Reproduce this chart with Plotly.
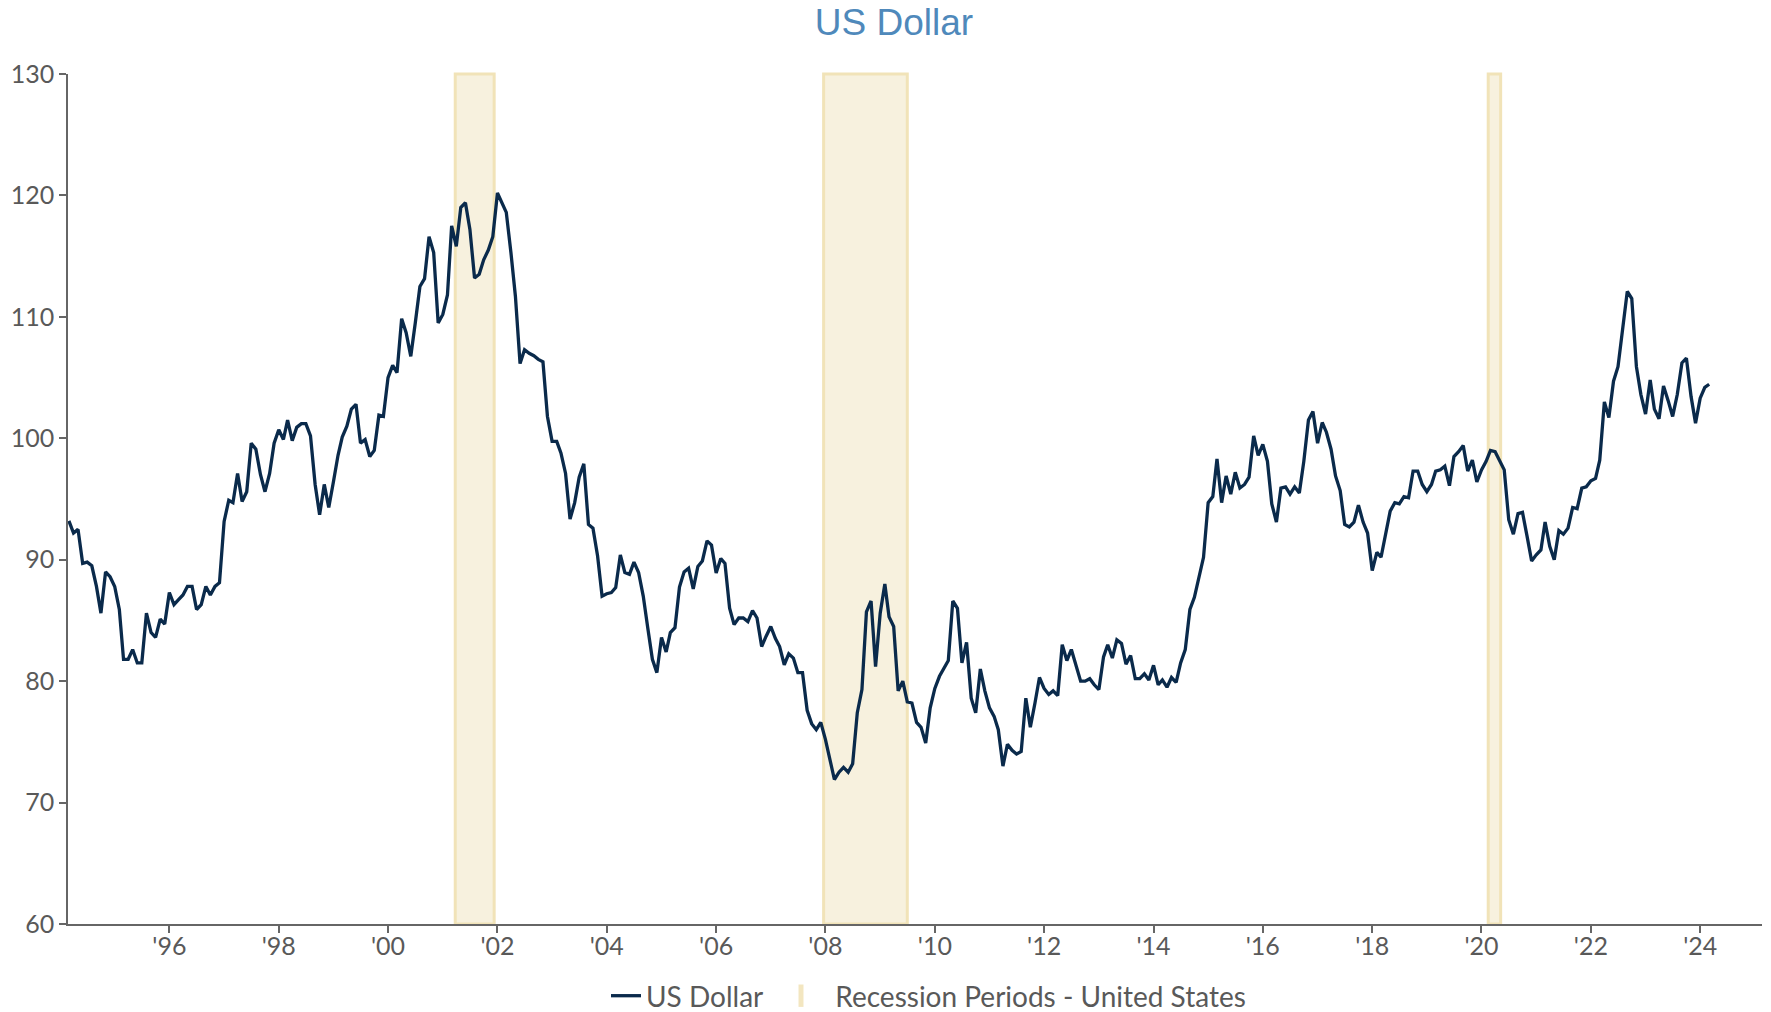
import pandas as pd
import plotly.graph_objects as go

# Monthly US Dollar index values, Mar 1994 - Mar 2024
start_month = "1994-03-01"
usd_1994 = [93.2, 92.2, 92.5, 89.7, 89.8, 89.5, 87.8, 85.6, 89.0, 88.6]
usd_1995 = [87.8, 85.9, 81.8, 81.8, 82.6, 81.5, 81.5, 85.6, 84.0, 83.6, 85.1, 84.7]
usd_1996 = [87.3, 86.3, 86.7, 87.1, 87.8, 87.8, 85.9, 86.3, 87.8, 87.1, 87.8, 88.1]
usd_1997 = [93.15, 94.9, 94.7, 97.1, 94.8, 95.6, 99.6, 99.1, 97.0, 95.6, 97.1, 99.6]
usd_1998 = [100.7, 99.9, 101.5, 99.8, 100.9, 101.2, 101.2, 100.2, 96.2, 93.7, 96.2, 94.3]
usd_1999 = [96.4, 98.6, 100.1, 101.0, 102.4, 102.8, 99.6, 99.9, 98.5, 99.0, 101.9, 101.8]
usd_2000 = [105.0, 106.0, 105.4, 109.85, 108.7, 106.75, 109.5, 112.5, 113.15, 116.6, 115.3, 109.5]
usd_2001 = [110.2, 111.8, 117.5, 115.8, 119.0, 119.4, 117.2, 113.2, 113.5, 114.7, 115.5, 116.6]
usd_2002 = [120.2, 119.4, 118.6, 115.3, 111.7, 106.15, 107.3, 107.0, 106.8, 106.5, 106.3, 101.8]
usd_2003 = [99.75, 99.75, 98.8, 97.1, 93.35, 94.7, 96.8, 97.9, 92.9, 92.6, 90.3, 87.0]
usd_2004 = [87.2, 87.3, 87.7, 90.4, 88.95, 88.8, 89.8, 88.95, 87.0, 84.4, 81.8, 80.7]
usd_2005 = [83.6, 82.4, 84.0, 84.4, 87.75, 89.0, 89.3, 87.6, 89.45, 89.9, 91.55, 91.2]
usd_2006 = [88.9, 90.1, 89.7, 86.0, 84.65, 85.2, 85.2, 84.9, 85.8, 85.2, 82.85, 83.7]
usd_2007 = [84.5, 83.5, 82.85, 81.35, 82.25, 81.9, 80.7, 80.7, 77.6, 76.5, 76.0, 76.6]
usd_2008 = [75.2, 73.5, 71.9, 72.5, 72.9, 72.5, 73.2, 77.4, 79.3, 85.7, 86.6, 81.2]
usd_2009 = [85.6, 88.0, 85.3, 84.5, 79.2, 80.0, 78.3, 78.2, 76.6, 76.2, 74.9, 77.8]
usd_2010 = [79.4, 80.4, 81.0, 81.7, 86.6, 86.0, 81.5, 83.2, 78.6, 77.4, 81.0, 79.2]
usd_2011 = [77.8, 77.1, 76.0, 73.0, 74.8, 74.3, 74.0, 74.2, 78.6, 76.2, 78.2, 80.3]
usd_2012 = [79.4, 78.9, 79.2, 78.8, 83.0, 81.7, 82.6, 81.2, 80.0, 80.0, 80.2, 79.7]
usd_2013 = [79.3, 82.0, 83.0, 81.9, 83.4, 83.1, 81.4, 82.1, 80.2, 80.2, 80.6, 80.1]
usd_2014 = [81.3, 79.7, 80.1, 79.5, 80.3, 79.9, 81.5, 82.6, 85.9, 86.9, 88.5, 90.2]
usd_2015 = [94.7, 95.2, 98.3, 94.7, 96.9, 95.4, 97.2, 95.9, 96.2, 96.8, 100.2, 98.6]
usd_2016 = [99.5, 98.1, 94.6, 93.1, 95.9, 96.0, 95.4, 96.0, 95.5, 98.1, 101.5, 102.2]
usd_2017 = [99.6, 101.3, 100.5, 99.1, 96.9, 95.7, 92.9, 92.7, 93.1, 94.5, 93.1, 92.2]
usd_2018 = [89.1, 90.6, 90.2, 92.0, 94.0, 94.7, 94.6, 95.2, 95.1, 97.3, 97.3, 96.2]
usd_2019 = [95.6, 96.2, 97.3, 97.4, 97.7, 96.1, 98.5, 98.9, 99.4, 97.3, 98.2, 96.4]
usd_2020 = [97.4, 98.1, 99.0, 98.9, 98.2, 97.4, 93.3, 92.1, 93.8, 93.9, 91.9, 89.9]
usd_2021 = [90.4, 90.8, 93.1, 91.1, 90.0, 92.4, 92.1, 92.6, 94.3, 94.2, 95.9, 96.0]
usd_2022 = [96.5, 96.7, 98.2, 103.0, 101.7, 104.7, 105.9, 109.0, 112.1, 111.5, 105.9, 103.6]
usd_2023 = [102.0, 104.8, 102.4, 101.6, 104.3, 103.1, 101.8, 103.6, 106.2, 106.6, 103.45, 101.25]
usd_2024 = [103.3, 104.2, 104.45]

usd_values = (usd_1994 + usd_1995 + usd_1996 + usd_1997 + usd_1998 + usd_1999 + usd_2000
              + usd_2001 + usd_2002 + usd_2003 + usd_2004 + usd_2005 + usd_2006 + usd_2007
              + usd_2008 + usd_2009 + usd_2010 + usd_2011 + usd_2012 + usd_2013 + usd_2014
              + usd_2015 + usd_2016 + usd_2017 + usd_2018 + usd_2019 + usd_2020 + usd_2021
              + usd_2022 + usd_2023 + usd_2024)
dates = pd.date_range(start_month, periods=len(usd_values), freq="MS")

# Recession periods - United States
recession_start = ["2001-03-25", "2007-12-20", "2020-02-15"]
recession_end = ["2001-12-10", "2009-07-01", "2020-05-08"]

# Axis ticks
tick_years = list(range(1996, 2025, 2))
tick_vals = [f"{y}-01-01" for y in tick_years]
tick_text = [f"'{str(y)[2:]}" for y in tick_years]
y_ticks = [60, 70, 80, 90, 100, 110, 120, 130]

LINE = "#0a2a4b"
BAND_FILL = "#f7f1de"
BAND_EDGE = "#f1e3b8"
LEGEND_BAND = "#f3e6c0"
AXIS = "#666666"
TXT = "#595959"
FONT = "Lato, 'Liberation Sans', sans-serif"
W, H = 1771, 1012
ML, MR, MT, MB = 68, 9, 74, 88
PW = W - ML - MR
PH = H - MT - MB


def px_to_paper_x(px):
    return (px - ML) / PW


legend_y = -(996 - (H - MB)) / PH

fig = go.Figure()
fig.add_trace(go.Scatter(
    x=dates, y=usd_values, mode="lines", name="US Dollar",
    line=dict(color=LINE, width=3.3), legend="legend",
))
fig.add_trace(go.Scatter(
    x=[None], y=[None], mode="markers",
    name="\u00a0\u00a0Recession Periods - United States",
    marker=dict(symbol="line-ns-open", size=18, color=LEGEND_BAND,
                line=dict(color=LEGEND_BAND, width=9)),
    legend="legend2",
))

for s, e in zip(recession_start, recession_end):
    fig.add_shape(type="rect", xref="x", yref="paper", x0=s, x1=e, y0=0, y1=1,
                  fillcolor=BAND_FILL, line=dict(color=BAND_EDGE, width=3), layer="below")

legend_common = dict(orientation="h", xanchor="left", y=legend_y, yanchor="middle",
                     font=dict(family=FONT, size=28, color=TXT), bgcolor="rgba(0,0,0,0)")

fig.update_layout(
    width=W, height=H,
    margin=dict(l=ML, r=MR, t=MT, b=MB, autoexpand=False),
    paper_bgcolor="white", plot_bgcolor="white",
    font=dict(family=FONT, size=25, color=TXT),
    title=dict(text="US Dollar", x=894 / W, xanchor="center", xref="container",
               y=1 - 22 / H, yanchor="middle", yref="container",
               font=dict(family="'Liberation Sans', Arial, sans-serif", size=37, color="#4f89bb")),
    showlegend=True,
    legend=dict(x=px_to_paper_x(606), **legend_common),
    legend2=dict(x=px_to_paper_x(781), **legend_common),
    xaxis=dict(
        type="date", range=["1994-02-23", "2025-02-17"],
        tickvals=tick_vals, ticktext=tick_text, automargin=False,
        showline=True, linecolor=AXIS, linewidth=1.5,
        ticks="outside", ticklen=7, tickcolor=AXIS, tickwidth=1.5,
        ticklabelstandoff=-8,
        showgrid=False, zeroline=False,
        tickfont=dict(family=FONT, size=25, color=TXT),
    ),
    yaxis=dict(
        range=[60, 130], tickvals=y_ticks, automargin=False,
        showline=True, linecolor=AXIS, linewidth=1.5,
        ticks="outside", ticklen=7, tickcolor=AXIS, tickwidth=1.5,
        showgrid=False, zeroline=False,
        tickfont=dict(family=FONT, size=25, color=TXT),
    ),
)

fig.write_html(
    "out.html",
    config={"displayModeBar": False},
    post_script="document.body.style.margin='0';document.body.style.overflow='hidden';",
)
